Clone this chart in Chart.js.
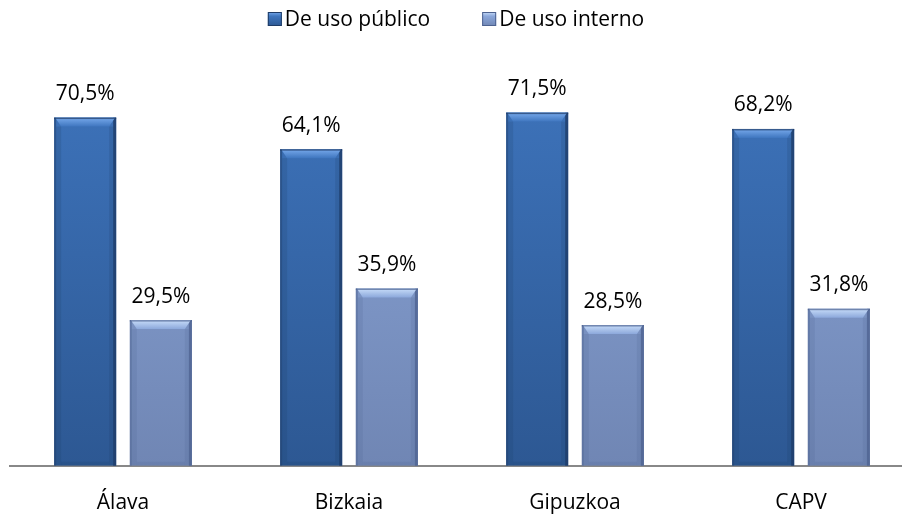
<!DOCTYPE html>
<html>
<head>
<meta charset="utf-8">
<script src="https://cdn.jsdelivr.net/npm/chart.js@4/dist/chart.umd.min.js"></script>
<style>
    html, body { margin: 0; padding: 0; background: #fff; overflow: hidden; }
    #wrap { width: 902px; height: 523px; overflow: hidden; }
    #box { width: 914px; height: 545px; }
</style>
</head>
<body>
<div id="wrap"><div id="box"><canvas id="chart"></canvas></div></div>
<script>
// 数据
const categories = ['Álava', 'Bizkaia', 'Gipuzkoa', 'CAPV'];
const publico = [70.5, 64.1, 71.5, 68.2];
const interno = [29.5, 35.9, 28.5, 31.8];
const seriesNames = ['De uso público', 'De uso interno'];

const FONT = '"Open Sans", "Liberation Sans", sans-serif';

// 颜色: 顶部, 底部, 顶部高光, 侧边暗色
const palette = [
    { hi: '#3F76BF', lo: '#2D5893', top: '#78AAEC', side: '#1E3B66' },
    { hi: '#8CA8DB', lo: '#7086B4', top: '#C8DDF9', side: '#4D6290' }
];

function barFill(i) {
    return function(context) {
        const area = context.chart.chartArea;
        if (!area) return palette[i].hi;
        const g = context.chart.ctx.createLinearGradient(0, area.top, 0, area.bottom);
        g.addColorStop(0, palette[i].hi);
        g.addColorStop(1, palette[i].lo);
        return g;
    };
}

// 柱子斜面效果 + 数值标签
const bevelPlugin = {
    id: 'bevel',
    afterDatasetsDraw(chart) {
        const ctx = chart.ctx;
        chart.data.datasets.forEach((ds, i) => {
            const meta = chart.getDatasetMeta(i);
            const c = palette[i];
            meta.data.forEach((bar, j) => {
                const left = bar.x - bar.width / 2;
                const right = bar.x + bar.width / 2;
                const top = bar.y;
                const bottom = bar.base;
                const s = 7, t = 9;
                ctx.save();
                // 左右侧边
                ctx.fillStyle = c.side;
                ctx.globalAlpha = 0.5;
                ctx.fillRect(left, top, 2, bottom - top);
                ctx.globalAlpha = 0.8;
                ctx.fillRect(right - 3, top, 3, bottom - top);
                ctx.globalAlpha = 0.18;
                ctx.fillRect(left + 2, top + t, s - 2, bottom - top - t);
                ctx.fillRect(right - s, top + t, s - 3, bottom - top - t);
                ctx.fillRect(left + s, bottom - 4, bar.width - 2 * s, 4);
                ctx.globalAlpha = 1;
                // 顶部梯形
                const g = ctx.createLinearGradient(0, top, 0, top + t);
                g.addColorStop(0, c.top);
                g.addColorStop(1, c.hi);
                ctx.fillStyle = g;
                ctx.beginPath();
                ctx.moveTo(left + 1, top);
                ctx.lineTo(right - 1, top);
                ctx.lineTo(right - s, top + t);
                ctx.lineTo(left + s, top + t);
                ctx.closePath();
                ctx.fill();
                ctx.fillStyle = c.side;
                ctx.globalAlpha = 0.7;
                ctx.fillRect(left, top, bar.width, 1.5);
                ctx.restore();

                // 数值标签
                ctx.save();
                ctx.fillStyle = '#000';
                ctx.font = '21px ' + FONT;
                ctx.textAlign = 'center';
                ctx.textBaseline = 'bottom';
                ctx.fillText(ds.data[j].toFixed(1).replace('.', ',') + '%', bar.x, top - 13);
                ctx.restore();
            });
        });
    }
};

// 图例 (顶部居中)
const legendPlugin = {
    id: 'topLegend',
    afterDraw(chart) {
        const ctx = chart.ctx;
        ctx.save();
        ctx.font = '21px ' + FONT;
        ctx.textBaseline = 'middle';
        const box = 14, gap = 3, itemGap = 52;
        const widths = seriesNames.map(n => box + gap + ctx.measureText(n).width);
        const total = widths[0] + itemGap + widths[1];
        let x = 456 - total / 2;
        const y = 19;
        seriesNames.forEach((name, i) => {
            const c = palette[i];
            const g = ctx.createLinearGradient(0, y - box / 2, 0, y + box / 2);
            g.addColorStop(0, c.top);
            g.addColorStop(0.3, c.hi);
            g.addColorStop(1, c.lo);
            ctx.fillStyle = g;
            ctx.fillRect(x, y - box / 2, box, box);
            ctx.strokeStyle = c.side;
            ctx.lineWidth = 1;
            ctx.strokeRect(x + 0.5, y - box / 2 + 0.5, box - 1, box - 1);
            ctx.fillStyle = '#000';
            ctx.fillText(name, x + box + gap, y + 1);
            x += widths[i] + itemGap;
        });
        ctx.restore();
    }
};

new Chart(document.getElementById('chart'), {
    type: 'bar',
    data: {
        labels: categories,
        datasets: [
            { label: seriesNames[0], data: publico, backgroundColor: barFill(0) },
            { label: seriesNames[1], data: interno, backgroundColor: barFill(1) }
        ]
    },
    options: {
        responsive: true,
        maintainAspectRatio: false,
        animation: false,
        categoryPercentage: 0.67,
        barPercentage: 0.82,
        layout: { padding: { left: 10, right: 0, top: 41, bottom: 4 } },
        plugins: {
            legend: { display: false },
            tooltip: { enabled: false }
        },
        scales: {
            x: {
                grid: { display: false, drawTicks: false },
                border: { display: true, color: '#888', width: 2 },
                ticks: { font: { family: FONT, size: 21 }, color: '#000', padding: 25 }
            },
            y: {
                display: false,
                min: 0,
                max: 86
            }
        }
    },
    plugins: [bevelPlugin, legendPlugin]
});
</script>
</body>
</html>
